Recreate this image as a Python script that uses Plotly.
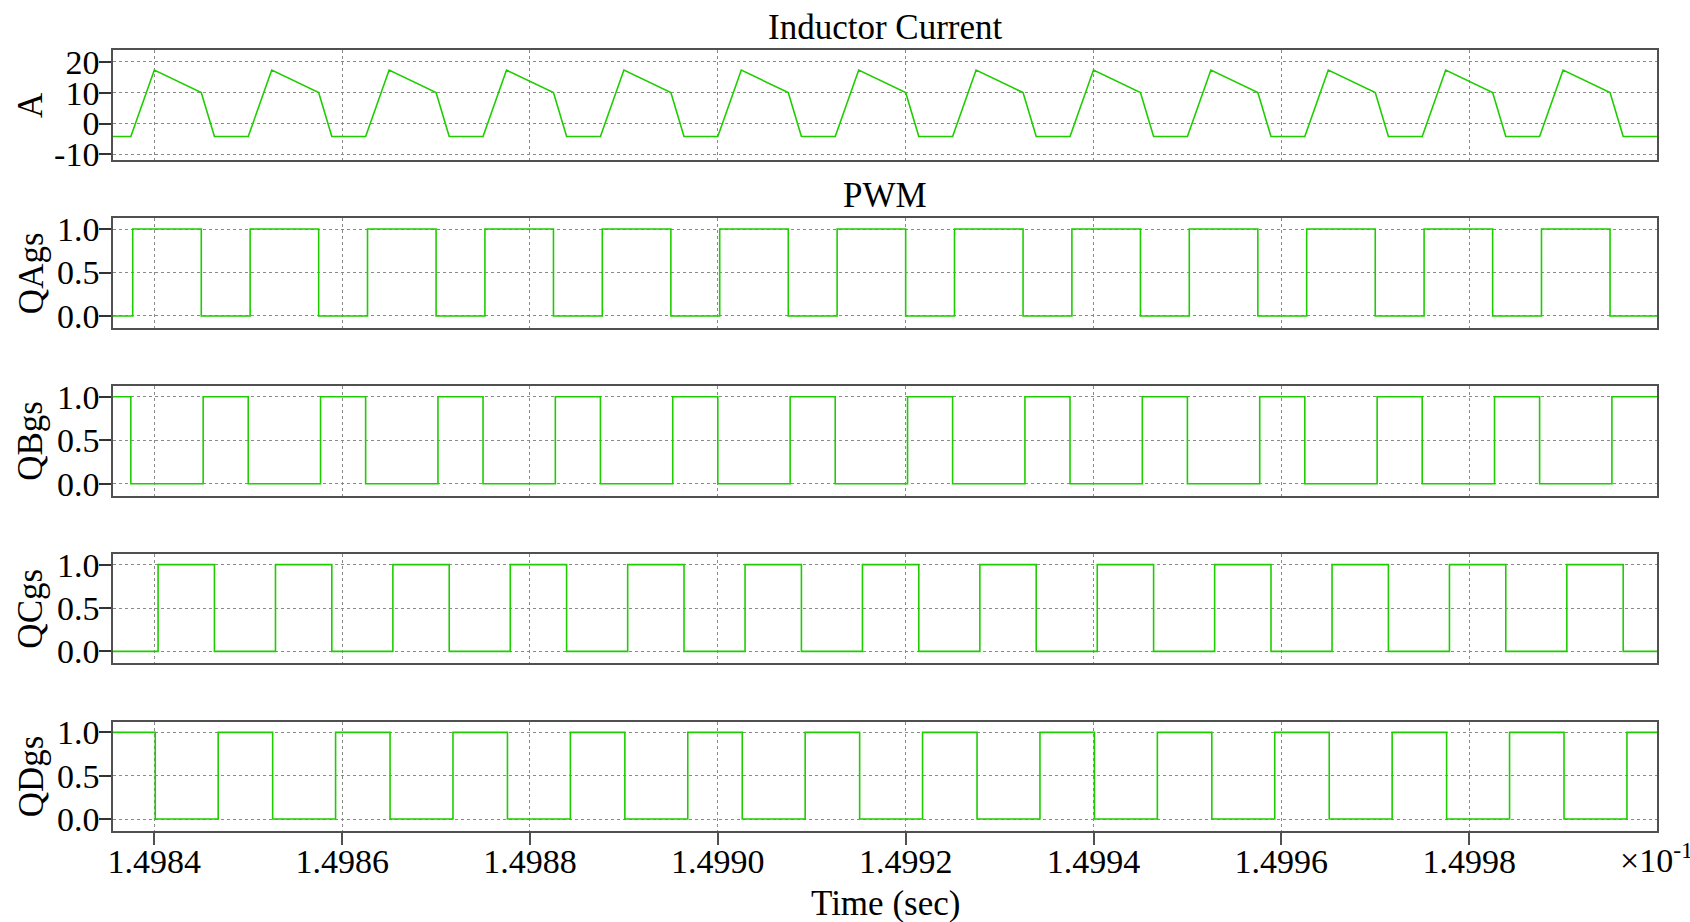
import plotly.graph_objects as go

W, H = 1690, 922

# ---------------- data (time in units of x10^-1 s) ----------------
t_start, t_end = 1.498356, 1.500000

current_time = [1.498356,
    1.498375, 1.498400, 1.498450, 1.498464,
    1.498500, 1.498525, 1.498575, 1.498589,
    1.498625, 1.498650, 1.498700, 1.498714,
    1.498750, 1.498775, 1.498825, 1.498839,
    1.498875, 1.498900, 1.498950, 1.498964,
    1.499000, 1.499025, 1.499075, 1.499089,
    1.499125, 1.499150, 1.499200, 1.499214,
    1.499250, 1.499275, 1.499325, 1.499339,
    1.499375, 1.499400, 1.499450, 1.499464,
    1.499500, 1.499525, 1.499575, 1.499589,
    1.499625, 1.499650, 1.499700, 1.499714,
    1.499750, 1.499775, 1.499825, 1.499839,
    1.499875, 1.499900, 1.499950, 1.499964,
    1.500000]
current_amp = [-4.2,
    -4.2, 17.3, 10.0, -4.2,
    -4.2, 17.3, 10.0, -4.2,
    -4.2, 17.3, 10.0, -4.2,
    -4.2, 17.3, 10.0, -4.2,
    -4.2, 17.3, 10.0, -4.2,
    -4.2, 17.3, 10.0, -4.2,
    -4.2, 17.3, 10.0, -4.2,
    -4.2, 17.3, 10.0, -4.2,
    -4.2, 17.3, 10.0, -4.2,
    -4.2, 17.3, 10.0, -4.2,
    -4.2, 17.3, 10.0, -4.2,
    -4.2, 17.3, 10.0, -4.2,
    -4.2, 17.3, 10.0, -4.2,
    -4.2]

# gate signals: initial level and switching instants (level toggles at each edge)
qa_init = 0
qa_edges = [1.498377, 1.498450, 1.498502, 1.498575, 1.498627, 1.498700,
            1.498752, 1.498825, 1.498877, 1.498950, 1.499002, 1.499075,
            1.499127, 1.499200, 1.499252, 1.499325, 1.499377, 1.499450,
            1.499502, 1.499575, 1.499627, 1.499700, 1.499752, 1.499825,
            1.499877, 1.499950]
qb_init = 1
qb_edges = [1.498375, 1.498452, 1.498500, 1.498577, 1.498625, 1.498702,
            1.498750, 1.498827, 1.498875, 1.498952, 1.499000, 1.499077,
            1.499125, 1.499202, 1.499250, 1.499327, 1.499375, 1.499452,
            1.499500, 1.499577, 1.499625, 1.499702, 1.499750, 1.499827,
            1.499875, 1.499952]
qc_init = 0
qc_edges = [1.498404, 1.498464, 1.498529, 1.498589, 1.498654, 1.498714,
            1.498779, 1.498839, 1.498904, 1.498964, 1.499029, 1.499089,
            1.499154, 1.499214, 1.499279, 1.499339, 1.499404, 1.499464,
            1.499529, 1.499589, 1.499654, 1.499714, 1.499779, 1.499839,
            1.499904, 1.499964]
qd_init = 1
qd_edges = [1.498401, 1.498468, 1.498526, 1.498593, 1.498651, 1.498718,
            1.498776, 1.498843, 1.498901, 1.498968, 1.499026, 1.499093,
            1.499151, 1.499218, 1.499276, 1.499343, 1.499401, 1.499468,
            1.499526, 1.499593, 1.499651, 1.499718, 1.499776, 1.499843,
            1.499901, 1.499968]

panel_labels = ["A", "QAgs", "QBgs", "QCgs", "QDgs"]
x_ticks = [1.4984, 1.4986, 1.4988, 1.4990, 1.4992, 1.4994, 1.4996, 1.4998]
x_tick_text = ["1.4984", "1.4986", "1.4988", "1.4990", "1.4992", "1.4994", "1.4996", "1.4998"]
current_ticks = [-10, 0, 10, 20]
current_tick_text = ["-10", "0", "10", "20"]
pwm_ticks = [0.0, 0.5, 1.0]
pwm_tick_text = ["0.0", "0.5", "1.0"]

# ---------------- style ----------------
GREEN = "rgb(30,205,0)"
FONT = "Liberation Serif"
FS = 34
FS_T = 35
FRAME = "#505050"
GRID = "#8a8a8a"


def steps(init, edges):
    xs, ys = [t_start], [init]
    lvl = init
    for e in edges:
        lvl = 1 - lvl
        xs.append(e)
        ys.append(lvl)
    xs.append(t_end)
    ys.append(lvl)
    return xs, ys


fig = go.Figure()
fig.add_trace(go.Scatter(x=current_time, y=current_amp, mode="lines",
                         line=dict(color=GREEN, width=1.6), xaxis="x", yaxis="y",
                         showlegend=False))
for i, (init, edges) in enumerate([(qa_init, qa_edges), (qb_init, qb_edges),
                                   (qc_init, qc_edges), (qd_init, qd_edges)]):
    xs, ys = steps(init, edges)
    fig.add_trace(go.Scatter(x=xs, y=ys, mode="lines", line_shape="hv",
                             line=dict(color=GREEN, width=1.6),
                             xaxis=f"x{i+2}", yaxis=f"y{i+2}", showlegend=False))

# panel pixel boxes (top, bottom)
boxes = [(50, 160), (218.3, 328), (386, 495.7), (554, 663.3), (721.7, 831)]
xl, xr = 113, 1657

layout = dict(width=W, height=H, margin=dict(l=0, r=0, t=0, b=0),
              paper_bgcolor="white", plot_bgcolor="white",
              font=dict(family=FONT, size=FS, color="black"))

for i, (top, bot) in enumerate(boxes):
    n = "" if i == 0 else str(i + 1)
    last = i == len(boxes) - 1
    layout["xaxis" + n] = dict(
        domain=[xl / W, xr / W], range=[t_start, t_end],
        anchor="y" + n,
        showline=True, mirror=True, linecolor=FRAME, linewidth=1.5,
        showgrid=True, gridcolor=GRID, griddash="dot", gridwidth=1,
        zeroline=False,
        tickvals=x_ticks, ticktext=x_tick_text,
        showticklabels=last,
        ticks="outside" if last else "", ticklen=12, tickcolor=FRAME, tickwidth=1.5,
        tickfont=dict(size=FS, family=FONT), ticklabelstandoff=-13,
        automargin=False,
    )
    if i == 0:
        yr = [-11.8, 23.8]
        tv, tt = current_ticks, current_tick_text
    else:
        yr = [-0.138, 1.123]
        tv, tt = pwm_ticks, pwm_tick_text
    layout["yaxis" + n] = dict(
        domain=[1 - bot / H, 1 - top / H], range=yr, anchor="x" + n,
        showline=True, mirror=True, linecolor=FRAME, linewidth=1.5,
        showgrid=True, gridcolor=GRID, griddash="dot", gridwidth=1,
        zeroline=False, tickvals=tv, ticktext=tt,
        ticks="outside", ticklen=12, tickcolor="#333", tickwidth=1.5,
        tickfont=dict(size=FS, family=FONT), ticklabelstandoff=-7,
        automargin=False,
    )

fig.update_layout(**layout)

ann = []
for i, (top, bot) in enumerate(boxes):
    ann.append(dict(text=panel_labels[i], x=31 / W, y=1 - ((top + bot) / 2) / H,
                    xref="paper", yref="paper", xanchor="center", yanchor="middle",
                    textangle=-90, showarrow=False, font=dict(size=FS_T, family=FONT)))
ann.append(dict(text="Inductor Current", x=(xl + xr) / 2 / W, y=1 - 27 / H,
                xref="paper", yref="paper", xanchor="center", yanchor="middle",
                showarrow=False, font=dict(size=FS_T, family=FONT)))
ann.append(dict(text="PWM", x=(xl + xr) / 2 / W, y=1 - 195 / H,
                xref="paper", yref="paper", xanchor="center", yanchor="middle",
                showarrow=False, font=dict(size=FS_T, family=FONT)))
ann.append(dict(text="Time (sec)", x=(xl + xr) / 2 / W, y=1 - 903 / H,
                xref="paper", yref="paper", xanchor="center", yanchor="middle",
                showarrow=False, font=dict(size=FS_T, family=FONT)))
ann.append(dict(text="×10<sup>-1</sup>", x=1618 / W, y=1 - 858 / H,
                xref="paper", yref="paper", xanchor="left", yanchor="middle",
                showarrow=False, font=dict(size=FS, family=FONT)))
fig.update_layout(annotations=ann)

fig.write_html("out.html")
